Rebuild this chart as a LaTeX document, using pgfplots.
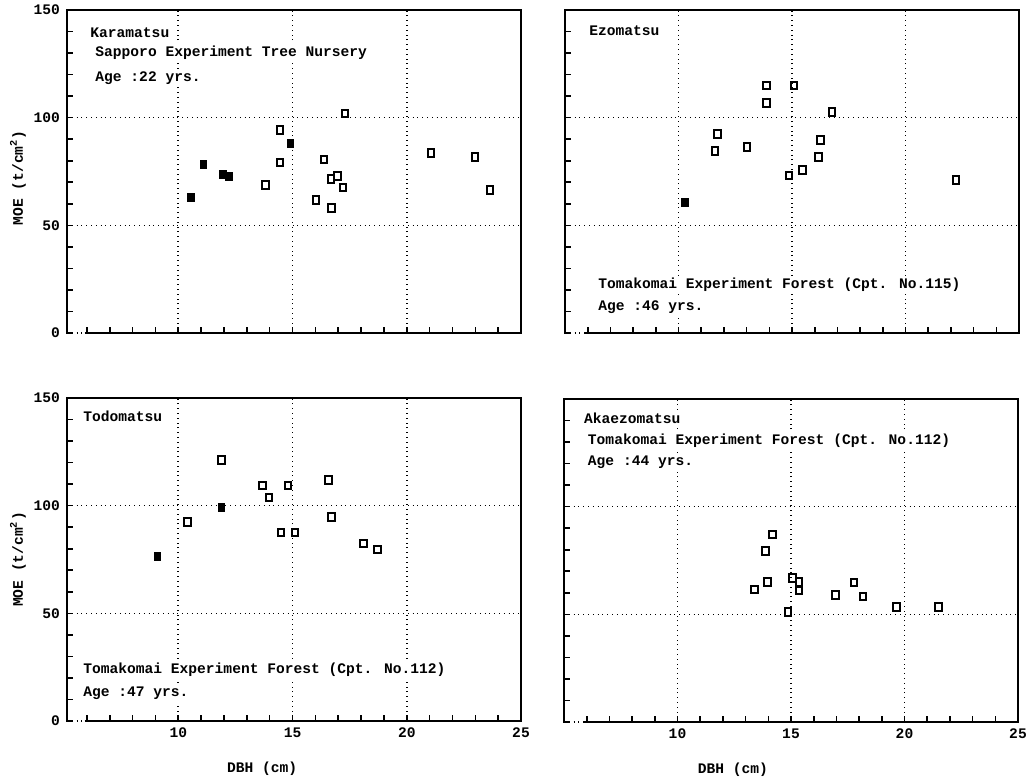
\documentclass[border=0pt]{standalone}
\usepackage{fontspec}
\setmainfont{Liberation Mono}
\usepackage{pgfplots}
\pgfplotsset{compat=1.18}
\newcommand{\pf}{\fontsize{7.3}{8.5}\selectfont\bfseries}
\tikzset{txt/.style={anchor=west, font=\pf, inner sep=1pt, fill=white}}
\pgfplotsset{
  panel/.style={
    scale only axis, width=227pt, height=161.5pt,
    xmax=25, ymin=0, ymax=150,
    axis line style={draw=none},
    xtick={10,15,20,25}, minor xtick={6,...,25},
    ytick={0,50,100,150}, minor ytick={0,10,...,150},
    xtick pos=bottom, ytick pos=left,
    tick align=inside,
    major tick length=3pt, minor tick length=3pt,
    tick style={black, line width=0.8pt},
    xmajorgrids, ymajorgrids,
    major grid style={black, dotted, line width=0.8pt},
    tick label style={font=\pf},
    /pgf/number format/assume math mode=true,
    label style={font=\pf},
    clip=false,
  },
  open/.style={only marks, mark=square, mark size=1.6pt,
    mark options={line width=1pt, yscale=1.2, black, solid}},
  filled/.style={only marks, mark=square*, mark size=1.7pt,
    mark options={yscale=1.2, draw=black, fill=black, solid}},
  ylab/.style={ylabel={MOE (t/cm\textsuperscript{2})},
    every axis y label/.style={at={([xshift=-24.5pt]rel axis cs:0,#1)}, rotate=90, anchor=center, font=\pf}},
  xlab/.style={xlabel={DBH (cm)},
    every axis x label/.style={at={(ticklabel cs:#1)}, anchor=north, yshift=-5pt, font=\pf}},
}
\newcommand{\frameit}{%
  \draw[line width=1pt] (axis cs:5.9,0) -- (rel axis cs:1,0) -- (rel axis cs:1,1) -- (rel axis cs:0,1) -- (rel axis cs:0,0) -- ([xshift=2pt]rel axis cs:0,0);}
\begin{document}
\begin{tikzpicture}
\useasboundingbox (0,0) rectangle (514pt,389.5pt);
% Top-left: Karamatsu
\begin{axis}[panel, at={(33.5pt,223pt)}, anchor=south west, xmin=5.13,
  xticklabels={}, ylab=0.48]
\frameit
\addplot[open] coordinates {(13.82,68.7)(14.44,94.4)(14.44,79.1)(16.02,61.9)(16.38,80.6)(16.68,71.5)(16.97,72.9)(16.70,57.9)(17.22,67.5)(17.31,102.0)(21.07,83.7)(22.98,81.6)(23.65,66.3)};
\addplot[filled] coordinates {(10.56,63.0)(11.10,78.2)(11.96,73.5)(12.22,72.9)(14.91,88.2)};
\node[txt] at (axis cs:6.05,139.3) {Karamatsu};
\node[txt] at (axis cs:6.27,130.0) {Sapporo Experiment Tree Nursery};
\node[txt] at (axis cs:6.27,118.4) {Age :22 yrs.};
\end{axis}
% Top-right: Ezomatsu
\begin{axis}[panel, at={(282.5pt,223pt)}, anchor=south west, xmin=5.0,
  xticklabels={}, yticklabels={}]
\frameit
\addplot[open] coordinates {(11.61,84.4)(11.71,92.4)(13.01,86.4)(13.87,115.0)(13.87,106.7)(15.08,115.0)(14.87,73.1)(15.46,75.7)(16.17,81.6)(16.26,89.6)(16.76,102.5)(22.23,70.9)};
\addplot[filled] coordinates {(10.29,60.7)};
\node[txt] at (axis cs:5.97,140.3) {Ezomatsu};
\node[txt] at (axis cs:6.36,22.3) {Tomakomai Experiment Forest (Cpt. No.115)};
\node[txt] at (axis cs:6.36,12.1) {Age :46 yrs.};
\end{axis}
% Bottom-left: Todomatsu
\begin{axis}[panel, at={(33.5pt,29pt)}, anchor=south west, xmin=5.13,
  ylab=0.5, xlab=0.43]
\frameit
\addplot[open] coordinates {(10.40,92.3)(11.89,121.1)(13.68,109.3)(13.97,103.8)(14.81,109.3)(14.50,87.5)(15.10,87.5)(16.58,111.9)(16.70,94.8)(18.11,82.4)(18.72,79.6)};
\addplot[filled] coordinates {(9.09,76.6)(11.89,99.2)};
\node[txt] at (axis cs:5.74,141.5) {Todomatsu};
\node[txt] at (axis cs:5.74,23.9) {Tomakomai Experiment Forest (Cpt. No.112)};
\node[txt] at (axis cs:5.74,12.7) {Age :47 yrs.};
\end{axis}
% Bottom-right: Akaezomatsu
\begin{axis}[panel, at={(282pt,28.5pt)}, anchor=south west, xmin=5.0,
  yticklabels={}, xlab=0.372]
\frameit
\addplot[open] coordinates {(13.39,61.5)(13.87,79.4)(13.96,64.9)(14.18,87.1)(14.88,51.1)(15.06,66.8)(15.36,64.9)(15.36,61.1)(16.96,59.1)(17.78,64.8)(18.18,58.3)(19.64,53.4)(21.49,53.4)};
\node[txt] at (axis cs:5.78,141.2) {Akaezomatsu};
\node[txt] at (axis cs:5.95,130.8) {Tomakomai Experiment Forest (Cpt. No.112)};
\node[txt] at (axis cs:5.95,120.4) {Age :44 yrs.};
\end{axis}
\end{tikzpicture}
\end{document}
